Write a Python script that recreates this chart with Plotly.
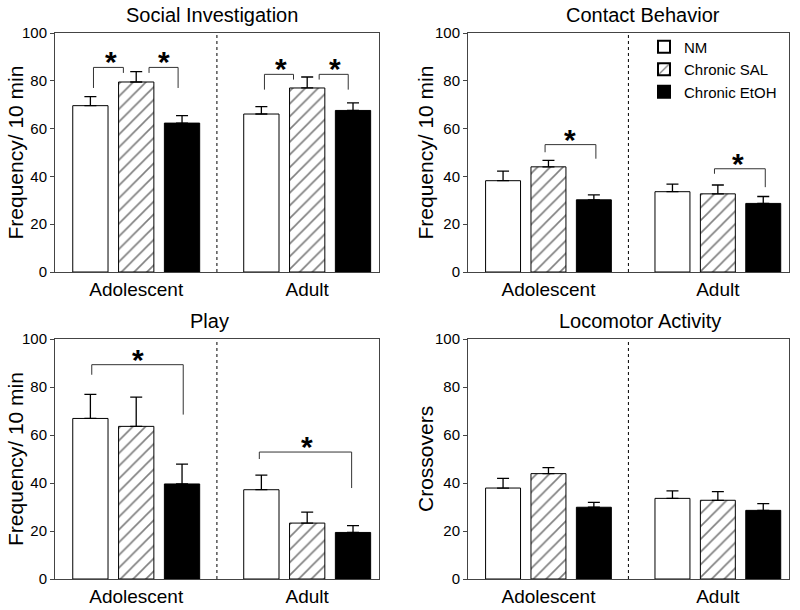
import plotly.graph_objects as go
from plotly.subplots import make_subplots

ages = ["Adolescent", "Adult"]
groups = ["NM", "Chronic SAL", "Chronic EtOH"]

panel_titles = ["Social Investigation", "Contact Behavior", "Play", "Locomotor Activity"]
y_titles = ["Frequency/ 10 min", "Frequency/ 10 min", "Frequency/ 10 min", "Crossovers"]

# means per panel: [NM, SAL, EtOH] x [Adolescent, Adult]
social_mean = [[69.6, 66.1], [79.5, 77.0], [62.3, 67.6]]
social_sem = [[3.8, 3.1], [4.3, 4.6], [3.1, 3.2]]
contact_mean = [[38.2, 33.6], [44.0, 32.7], [30.2, 28.7]]
contact_sem = [[4.0, 3.2], [2.7, 3.7], [2.1, 2.9]]
play_mean = [[66.9, 37.2], [63.6, 23.3], [39.6, 19.4]]
play_sem = [[10.0, 6.1], [12.2, 4.6], [8.3, 2.8]]
loco_mean = [[37.9, 33.6], [43.9, 32.8], [29.9, 28.6]]
loco_sem = [[4.0, 3.1], [2.5, 3.6], [2.0, 2.8]]

y_ticks = [0, 20, 40, 60, 80, 100]

# significance brackets: panel, x left, x right, left leg bottom, top, right leg bottom, star x
sig_brackets = [
    (1, -0.25, -0.075, 77.0, 85.6, 83.3, -0.15),
    (1, 0.075, 0.245, 83.3, 85.6, 77.0, 0.16),
    (1, 0.75, 0.92, 76.3, 82.7, 80.5, 0.845),
    (1, 1.07, 1.24, 80.5, 82.7, 76.3, 1.16),
    (2, -0.02, 0.28, 50.1, 53.3, 47.4, 0.13),
    (2, 0.98, 1.28, 41.1, 43.2, 35.5, 1.12),
    (3, -0.26, 0.275, 85.1, 89.3, 68.5, 0.01),
    (3, 0.72, 1.26, 50.0, 52.9, 37.9, 1.0),
]

means = [social_mean, contact_mean, play_mean, loco_mean]
sems = [social_sem, contact_sem, play_sem, loco_sem]

fills = ["white", "white", "black"]
patterns = ["", "/", ""]

W, H = 800, 610

fig = make_subplots(rows=2, cols=2)

for p in range(4):
    r, c = p // 2 + 1, p % 2 + 1
    for g in range(3):
        fig.add_trace(go.Bar(
            x=ages, y=means[p][g], name=groups[g],
            showlegend=(p == 1),
            marker=dict(color=fills[g], line=dict(color="black", width=1),
                        pattern=dict(shape=patterns[g], fgcolor="black", bgcolor="white",
                                     size=9, solidity=0.18)),
            error_y=dict(type="data", symmetric=False, array=sems[p][g],
                         arrayminus=[0, 0], color="black", thickness=1.3, width=6),
        ), row=r, col=c)

x_dom = [[55 / W, 379 / W], [468 / W, 789 / W]]
y_dom = [[1 - 272 / H, 1 - 33 / H], [1 - 579 / H, 1 - 339 / H]]
title_x = [0.485, 0.545, 0.478, 0.536]
ytitle_x = [15 / W, 425 / W]

for p in range(4):
    r, c = p // 2, p % 2
    ax = "" if p == 0 else str(p + 1)
    fig.layout["xaxis" + ax].update(
        domain=x_dom[c], range=[-0.475, 1.42], showline=True, mirror=True,
        linecolor="#444", linewidth=1, ticks="", showgrid=False, automargin=False,
        tickfont=dict(size=19, color="black"), fixedrange=True)
    fig.layout["yaxis" + ax].update(
        domain=y_dom[r], range=[0, 100], tickvals=y_ticks, showline=True, mirror=True,
        linecolor="#444", linewidth=1, ticks="outside", ticklen=4, tickcolor="#444",
        showgrid=False, zeroline=False, automargin=False,
        tickfont=dict(size=15, color="black"))
    # y axis title
    fig.add_annotation(text=y_titles[p], textangle=-90, xref="paper", yref="y" + ax + " domain",
                       x=ytitle_x[c], y=0.5, xanchor="center", yanchor="middle",
                       showarrow=False, font=dict(size=21, color="black"))
    # divider between age groups
    fig.add_shape(type="line", xref="x" + ax, yref="y" + ax, x0=0.472, x1=0.472,
                  y0=0, y1=100, line=dict(color="black", width=1, dash="3px,3px"))
    # panel title
    fig.add_annotation(text=panel_titles[p], xref="x" + ax + " domain", yref="y" + ax + " domain",
                       x=title_x[p], y=1.0, yanchor="bottom", yshift=5, showarrow=False,
                       font=dict(size=20, color="black"))

for pnl, xl, xr, yl, yt, yr, sx in sig_brackets:
    ax = "" if pnl == 1 else str(pnl)
    fig.add_shape(type="path", xref="x" + ax, yref="y" + ax,
                  path=f"M {xl},{yl} L {xl},{yt} L {xr},{yt} L {xr},{yr}",
                  line=dict(color="#333", width=1))
    fig.add_annotation(text="<b>*</b>", xref="x" + ax, yref="y" + ax, x=sx, y=yt,
                       yanchor="bottom", yshift=-13, showarrow=False,
                       font=dict(size=30, color="black"))

fig.update_layout(
    width=W, height=H, margin=dict(l=0, r=0, t=0, b=0),
    paper_bgcolor="white", plot_bgcolor="white",
    barmode="group", bargap=0.196, bargroupgap=0.23,
    font=dict(family="Liberation Sans, Arial, sans-serif", color="black"),
    legend=dict(x=644 / W, y=1 - 30.5 / H, xanchor="left", yanchor="top",
                font=dict(size=15), bgcolor="rgba(0,0,0,0)", tracegroupgap=0,
                itemsizing="constant"),
)

# drop the default 8px body margin so the 800x610 figure fills the window
fig.write_html("out.html", config={"displayModeBar": False},
               post_script="document.body.style.margin = '0';")
